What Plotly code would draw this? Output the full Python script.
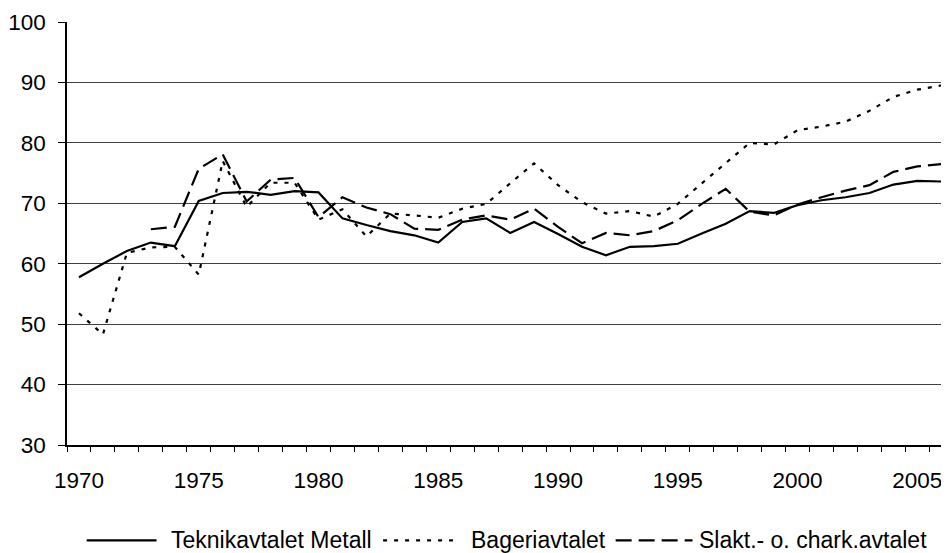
import plotly.graph_objects as go

years = list(range(1970, 2007))

teknik = [57.75, 60.0, 62.1, 63.5, 62.9, 70.4, 71.7, 71.9, 71.4, 72.0,
          71.8, 67.5, 66.4, 65.4, 64.7, 63.5, 66.9, 67.5, 65.1, 66.9,
          64.9, 62.8, 61.4, 62.8, 62.9, 63.3, 65.0, 66.6, 68.7, 68.4,
          69.7, 70.5, 71.0, 71.7, 73.1, 73.7, 73.6]

bageri = [51.8, 48.3, 61.8, 62.7, 62.8, 58.2, 77.0, 69.4, 73.4, 73.4,
          67.3, 69.0, 64.5, 68.3, 68.0, 67.6, 69.1, 69.9, 73.3, 76.6,
          73.0, 70.2, 68.3, 68.7, 67.8, 69.9, 73.3, 76.6, 80.0, 79.7,
          82.1, 82.7, 83.5, 85.3, 87.6, 88.8, 89.5]

slakt = [None, None, None, 65.7, 66.1, 75.7, 78.1, 70.3, 73.9, 74.2,
         67.7, 71.0, 69.3, 68.2, 65.8, 65.6, 67.3, 68.0, 67.3, 69.1,
         66.1, 63.4, 65.1, 64.7, 65.4, 67.2, 69.9, 72.4, 68.6, 68.0,
         69.8, 71.0, 72.1, 73.0, 75.2, 76.1, 76.5]

names = ["Teknikavtalet Metall", "Bageriavtalet", "Slakt.- o. chark.avtalet"]
xtick_vals = [1970, 1975, 1980, 1985, 1990, 1995, 2000, 2005]
ytick_vals = [30, 40, 50, 60, 70, 80, 90, 100]

FONT = "Liberation Sans, Arial, sans-serif"
dashes = ["solid", "4px,7px", "16px,7px"]
series = [teknik, bageri, slakt]

fig = go.Figure()
for nm, vals, ds in zip(names, series, dashes):
    fig.add_trace(go.Scatter(x=years, y=vals, mode="lines", name=nm,
                             line=dict(color="black", width=2.2, dash=ds),
                             connectgaps=False, showlegend=False))

# page body has an 8px margin: figure drawn at (8, 8) in the screenshot
OFF = 8
W, H = 949 - OFF, 553 - OFF
plot_left, plot_top, plot_bottom = 65.3 - OFF, 21.7 - OFF, 444.7 - OFF
ml, mt = plot_left, plot_top
mb = H - plot_bottom
mr = 0
pw = W - ml - mr
ph = H - mt - mb

def px_x(p):
    return (p - OFF - ml) / pw

def px_y(p):
    return (H - mb - (p - OFF)) / ph

# custom legend (samples + labels), positions in screenshot pixels
leg_y = 540
samples = [(85, 155, 167), (382, 452, 468), (615, 692, 697)]
for (x0, x1, tx), nm, ds in zip(samples, names, dashes):
    fig.add_shape(type="line", xref="paper", yref="paper",
                  x0=px_x(x0), x1=px_x(x1), y0=px_y(leg_y), y1=px_y(leg_y),
                  line=dict(color="black", width=2.2, dash=ds))
    fig.add_annotation(xref="paper", yref="paper", x=px_x(tx), y=px_y(leg_y),
                       text=nm, showarrow=False, xanchor="left", yanchor="middle",
                       font=dict(family=FONT, size=23, color="black"))

x_right = 1969.5 + pw / 24.0

fig.update_layout(
    width=W, height=H, autosize=False,
    margin=dict(l=ml, r=mr, t=mt, b=mb, pad=0),
    paper_bgcolor="white", plot_bgcolor="white",
    font=dict(family=FONT, size=22.5, color="black"),
    showlegend=False,
    xaxis=dict(range=[1969.5, x_right], tickmode="array", tickvals=xtick_vals,
               ticktext=[str(v) for v in xtick_vals],
               ticks="", showgrid=False, zeroline=False,
               showline=True, linecolor="black", linewidth=1.5,
               ticklabelstandoff=14,
               minor=dict(ticks="outside", ticklen=5, tickcolor="black",
                          tick0=1969.5, dtick=1, showgrid=False, tickwidth=1)),
    yaxis=dict(range=[30, 100], tickmode="array", tickvals=ytick_vals,
               ticks="outside", ticklen=7, tickcolor="black", tickwidth=1,
               showgrid=True, gridcolor="#404040", gridwidth=1,
               zeroline=False, showline=True, linecolor="black", linewidth=1.5,
               ticklabelstandoff=8),
)

fig.write_html("out.html")
